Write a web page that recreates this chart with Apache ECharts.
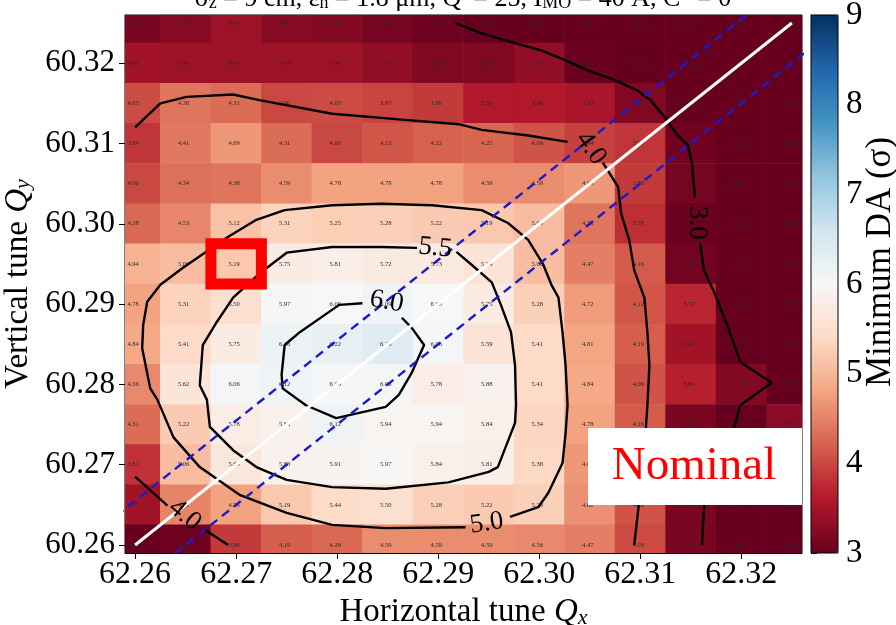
<!DOCTYPE html>
<html><head><meta charset="utf-8">
<script src="https://cdn.jsdelivr.net/npm/echarts@6/dist/echarts.min.js"></script>
<style>html,body{margin:0;padding:0;background:#fff}#c{width:896px;height:625px}</style>
</head><body><div id="c"></div>
<script>
// ---------------- data ----------------
const qxCols = [62.26, 62.265, 62.27, 62.275, 62.28, 62.285, 62.29, 62.295, 62.30, 62.305, 62.31, 62.315, 62.32, 62.325];
const qyRows = [60.325, 60.32, 60.315, 60.31, 60.305, 60.30, 60.295, 60.29, 60.285, 60.28, 60.275, 60.27, 60.265, 60.26];
const daRows = [
  [3.16, 3.25, 3.44, 3.25, 3.22, 3.12, 3.06, 2.93, 2.69, 2.53, 2.41, 2.16, 2.00, 2.00],
  [3.47, 3.44, 3.44, 3.44, 3.44, 3.34, 3.19, 3.19, 3.34, 3.03, 2.69, 2.22, 2.00, 2.00],
  [4.03, 4.38, 4.31, 4.00, 4.03, 3.97, 3.88, 3.59, 3.59, 3.53, 3.21, 2.38, 2.25, 2.00],
  [3.84, 4.41, 4.69, 4.31, 4.00, 4.12, 4.22, 4.25, 4.09, 3.94, 3.84, 3.08, 2.25, 2.00],
  [4.00, 4.34, 4.38, 4.59, 4.78, 4.78, 4.78, 4.59, 4.59, 4.69, 3.88, 3.12, 2.28, 2.00],
  [4.28, 4.53, 5.12, 5.31, 5.25, 5.28, 5.22, 5.19, 5.06, 4.38, 3.78, 3.03, 2.25, 2.00],
  [4.94, 5.06, 5.19, 5.75, 5.81, 5.72, 5.73, 5.59, 5.06, 4.47, 4.16, 3.09, 2.25, 2.00],
  [4.78, 5.31, 5.50, 5.97, 6.00, 6.09, 6.00, 5.75, 5.28, 4.72, 4.12, 3.72, 2.34, 2.00],
  [4.84, 5.41, 5.75, 6.16, 6.22, 6.38, 6.06, 5.59, 5.41, 4.81, 4.19, 3.47, 2.75, 2.62],
  [4.56, 5.62, 6.06, 6.12, 6.03, 6.06, 5.78, 5.88, 5.41, 4.84, 4.09, 3.66, 3.22, 2.97],
  [4.31, 5.22, 5.78, 5.88, 6.12, 5.94, 5.94, 5.84, 5.34, 4.78, 4.16, 3.16, 2.75, 3.28],
  [3.81, 5.06, 5.66, 5.88, 5.91, 5.97, 5.84, 5.81, 5.38, 4.69, 4.12, 3.16, 2.38, 2.47],
  [3.47, 4.51, 4.78, 5.19, 5.44, 5.50, 5.28, 5.22, 5.28, 4.62, 4.09, 3.16, 2.31, 2.00],
  [3.00, 3.06, 3.88, 4.19, 4.28, 4.59, 4.59, 4.59, 4.56, 4.47, 4.03, 3.16, 2.31, 2.00]
];
const xTicks = [62.26, 62.27, 62.28, 62.29, 62.30, 62.31, 62.32];
const yTicks = [60.26, 60.27, 60.28, 60.29, 60.30, 60.31, 60.32];
const cbTicks = [3, 4, 5, 6, 7, 8, 9];
const cbRange = [3, 9];
const xRange = [62.259, 62.326];
const yRange = [60.259, 60.326];
const nominalCell = [[62.27, 60.295]];

// resonance line Qx - Qy = 2 and its +/- band
const diagLine = [[62.26, 60.26], [62.325, 60.325]];
const bandUpper = [[62.25, 60.2555], [62.33, 60.3355]];
const bandLower = [[62.25, 60.245], [62.33, 60.325]];

// contour paths (Qx, Qy)
const contour30a = [[62.2917,60.3250],[62.2943,60.3237],[62.2976,60.3225],[62.3002,60.3216],[62.3025,60.3204],[62.3048,60.3191],[62.3075,60.3179],[62.3097,60.3166],[62.3110,60.3154],[62.3124,60.3133],[62.3137,60.3110],[62.3147,60.3098],[62.3151,60.3076],[62.3154,60.3033]];
const contour30b = [[62.3159,60.2976],[62.3163,60.2942],[62.3173,60.2915],[62.3186,60.2874],[62.3199,60.2828],[62.3230,60.2802],[62.3199,60.2774],[62.3193,60.2747],[62.3176,60.2693],[62.3163,60.2647],[62.3161,60.2600]];
const contour40a = [[62.2600,60.3120],[62.2625,60.3150],[62.2651,60.3158],[62.2697,60.3161],[62.2723,60.3154],[62.2795,60.3137],[62.2861,60.3130],[62.2920,60.3124],[62.2943,60.3117],[62.2989,60.3110],[62.3028,60.3102]];
const contour40b = [[62.3063,60.3076],[62.3078,60.3046],[62.3081,60.3013],[62.3089,60.2980],[62.3094,60.2942],[62.3104,60.2908],[62.3107,60.2865],[62.3109,60.2824],[62.3107,60.2774],[62.3104,60.2718],[62.3099,60.2656],[62.3094,60.2600]];
const contour40c = [[62.2600,60.2685],[62.2632,60.2649]];
const contour40d = [[62.2669,60.2619],[62.2692,60.2600]];
const contour50 = [[62.2927,60.2622],[62.2848,60.2621],[62.2795,60.2625],[62.2750,60.2640],[62.2704,60.2662],[62.2664,60.2697],[62.2638,60.2734],[62.2622,60.2781],[62.2615,60.2795],[62.2607,60.2845],[62.2608,60.2874],[62.2612,60.2903],[62.2625,60.2924],[62.2647,60.2945],[62.2691,60.2983],[62.2720,60.3005],[62.2748,60.3017],[62.2795,60.3023],[62.2844,60.3025],[62.2894,60.3023],[62.2943,60.3017],[62.2969,60.3001],[62.2989,60.2980],[62.3004,60.2949],[62.3012,60.2924],[62.3019,60.2908],[62.3023,60.2865],[62.3026,60.2824],[62.3028,60.2774],[62.3026,60.2739],[62.3023,60.2702],[62.3009,60.2665],[62.2999,60.2647],[62.2971,60.2635]];
const contour55 = [[62.2918,60.2965],[62.2933,60.2949],[62.2953,60.2927],[62.2962,60.2899],[62.2972,60.2865],[62.2976,60.2824],[62.2977,60.2774],[62.2976,60.2752],[62.2959,60.2697],[62.2950,60.2691],[62.2910,60.2678],[62.2848,60.2670],[62.2795,60.2672],[62.2750,60.2681],[62.2720,60.2697],[62.2697,60.2718],[62.2674,60.2747],[62.2671,60.2781],[62.2664,60.2799],[62.2667,60.2849],[62.2681,60.2878],[62.2697,60.2908],[62.2725,60.2940],[62.2750,60.2964],[62.2795,60.2971],[62.2844,60.2971],[62.2879,60.2970]];
const contour60 = [[62.2864,60.2883],[62.2874,60.2870],[62.2886,60.2849],[62.2874,60.2815],[62.2861,60.2787],[62.2848,60.2772],[62.2799,60.2758],[62.2769,60.2774],[62.2746,60.2795],[62.2745,60.2812],[62.2748,60.2849],[62.2763,60.2865],[62.2802,60.2899],[62.2825,60.2901]];
const contourPaths = [contour30a, contour30b, contour40a, contour40b, contour40c, contour40d, contour50, contour55, contour60];
// contour labels: [Qx, Qy, text, rotation deg]
const contourLabels = [
  [62.3156, 60.3001, '3.0', -90],
  [62.3051, 60.3094, '4.0', -55],
  [62.2649, 60.2637, '4.0', -40],
  [62.2948, 60.2627, '5.0', 8],
  [62.2897, 60.2970, '5.5', -6],
  [62.2849, 60.2903, '6.0', -10]
];

// ---------------- chart ----------------
const SERIF = '"Liberation Serif", "DejaVu Serif", serif';
const cellData = [];
qyRows.forEach((qy, r) => qxCols.forEach((qx, c) => cellData.push([qx, qy, daRows[r][c]])));
const stepX = qxCols[1] - qxCols[0];
const stepY = qyRows[0] - qyRows[1];

const chart = echarts.init(document.getElementById('c'), null, {renderer: 'canvas'});
const rdbu = ['#67001f','#b2182b','#d6604d','#f4a582','#fddbc7','#f7f7f7','#d1e5f0','#92c5de','#4393c3','#2166ac','#053061'];

const series = [];
series.push({
  type: 'custom', xAxisIndex: 0, yAxisIndex: 0, clip: true, z: 1,
  data: cellData,
  encode: {x: 0, y: 1},
  renderItem(params, api) {
    const c = api.coord([api.value(0), api.value(1)]);
    const s = api.size([stepX, stepY]);
    return {type: 'group', children: [
      {type: 'rect', shape: {x: c[0] - s[0] / 2 - 0.3, y: c[1] - s[1] / 2 - 0.3, width: s[0] + 0.6, height: s[1] + 0.6}, style: {fill: api.visual('color')}},
      {type: 'text', x: c[0] - 2, y: c[1], style: {text: api.value(2).toFixed(2), font: '6.5px ' + SERIF, fill: '#2a2a2a', align: 'center', verticalAlign: 'middle'}}
    ]};
  }
});
contourPaths.forEach(p => series.push({
  type: 'line', data: p, symbol: 'none', z: 3, silent: true,
  lineStyle: {color: '#000', width: 2.4}
}));
series.push({type: 'line', data: diagLine, symbol: 'none', z: 4, lineStyle: {color: '#fff', width: 3}});
series.push({type: 'line', data: bandUpper, symbol: 'none', z: 4, lineStyle: {color: '#1c1cc8', width: 2.4, type: [9, 6]}});
series.push({type: 'line', data: bandLower, symbol: 'none', z: 4, lineStyle: {color: '#1c1cc8', width: 2.4, type: [9, 6]}});
series.push({
  type: 'custom', z: 6, data: nominalCell, clip: false,
  renderItem(params, api) {
    const c = api.coord([api.value(0), api.value(1)]);
    const s = api.size([stepX, stepY]);
    return {type: 'rect', shape: {x: c[0] - s[0] / 2, y: c[1] - s[1] / 2, width: s[0], height: s[1]},
      style: {fill: 'none', stroke: '#ff0000', lineWidth: 11}};
  }
});
series.push({
  type: 'custom', z: 7, data: contourLabels, clip: false,
  renderItem(params, api) {
    const c = api.coord([api.value(0), api.value(1)]);
    const d = contourLabels[params.dataIndex];
    return {type: 'text', x: c[0], y: c[1], rotation: d[3] * Math.PI / 180,
      style: {text: d[2], font: '27px ' + SERIF, fill: '#000', align: 'center', verticalAlign: 'middle'}};
  }
});

const nameRich = {
  q: {fontFamily: SERIF, fontSize: 33, fontStyle: 'italic', color: '#000', verticalAlign: 'top', lineHeight: 33},
  s: {fontFamily: SERIF, fontSize: 22, fontStyle: 'italic', color: '#000', verticalAlign: 'top', lineHeight: 22, padding: [11, 0, 0, 0]},
  n: {fontFamily: SERIF, fontSize: 33, color: '#000', verticalAlign: 'top', lineHeight: 33}
};

const option = {
  animation: false,
  backgroundColor: '#fff',
  grid: [
    {left: 125, top: 15, width: 677, height: 538, show: true, borderColor: '#000', borderWidth: 1, backgroundColor: 'transparent', containLabel: false, outerBoundsMode: 'none'},
    {left: 811, top: 15, width: 27, height: 538, show: true, borderColor: '#000', borderWidth: 1, backgroundColor: 'transparent', z: 10, containLabel: false, outerBoundsMode: 'none'}
  ],
  xAxis: [
    {type: 'value', gridIndex: 0, min: xRange[0], max: xRange[1],
     axisLine: {show: true, onZero: false, lineStyle: {color: '#000', width: 1}},
     axisTick: {show: true, inside: false, length: 6, customValues: xTicks, lineStyle: {color: '#000', width: 1}},
     axisLabel: {customValues: xTicks, formatter: v => v.toFixed(2), fontFamily: SERIF, fontSize: 32, color: '#000', margin: 6},
     splitLine: {show: false},
     name: '{n|Horizontal tune }{q|Q}{s|x}', nameLocation: 'middle', nameGap: 31,
     nameTextStyle: {rich: nameRich}},
    {type: 'value', gridIndex: 1, show: false, min: 0, max: 1}
  ],
  yAxis: [
    {type: 'value', gridIndex: 0, min: yRange[0], max: yRange[1],
     axisLine: {show: true, onZero: false, lineStyle: {color: '#000', width: 1}},
     axisTick: {show: true, inside: false, length: 6, customValues: yTicks, lineStyle: {color: '#000', width: 1}},
     axisLabel: {customValues: yTicks, formatter: v => v.toFixed(2), fontFamily: SERIF, fontSize: 31, color: '#000', margin: 10},
     splitLine: {show: false},
     name: '{n|Vertical tune }{q|Q}{s|y}', nameLocation: 'middle', nameGap: 50, nameRotate: 90,
     nameTextStyle: {rich: nameRich}},
    {type: 'value', gridIndex: 1, min: cbRange[0], max: cbRange[1], interval: 1, position: 'right',
     axisLine: {show: true, lineStyle: {color: '#000'}},
     axisTick: {show: true, inside: false, length: 6, lineStyle: {color: '#000'}},
     axisLabel: {fontFamily: SERIF, fontSize: 33, color: '#000', margin: 8, formatter: v => String(v)},
     splitLine: {show: false}}
  ],
  visualMap: {
    type: 'continuous', min: cbRange[0], max: cbRange[1], dimension: 2, seriesIndex: 0,
    calculable: false, show: true, left: 811, top: 15, itemWidth: 27, itemHeight: 538, padding: 0,
    inRange: {color: rdbu}, text: null, showLabel: false, hoverLink: false
  },
  graphic: [
    {type: 'text', x: 463, y: 12, z: 50, silent: true,
     style: {text: 'σ{s|z} = 9 cm, ε{s|n} = 1.8 μm, Q′ = 25, I{s|MO} = 40 A, C{p|−} = 0',
       font: '26px ' + SERIF, fill: '#000', align: 'center', verticalAlign: 'bottom',
       rich: {s: {font: '18px ' + SERIF, fill: '#000', verticalAlign: 'bottom'}, p: {font: '18px ' + SERIF, fill: '#000', verticalAlign: 'top'}}}},
    {type: 'text', x: 881, y: 262, z: 50, silent: true, rotation: Math.PI / 2,
     style: {text: 'Minimum DA (σ)', font: '35px ' + SERIF, fill: '#000', align: 'center', verticalAlign: 'middle'}},
    {type: 'rect', z: 100, silent: true, shape: {x: 588, y: 428, width: 214, height: 77}, style: {fill: '#fff'}},
    {type: 'text', z: 101, silent: true, x: 694, y: 467,
     style: {text: 'Nominal', font: '47px ' + SERIF, fill: '#ff0000', align: 'center', verticalAlign: 'middle'}}
  ],
  series: series
};
chart.setOption(option);
</script>
</body></html>
